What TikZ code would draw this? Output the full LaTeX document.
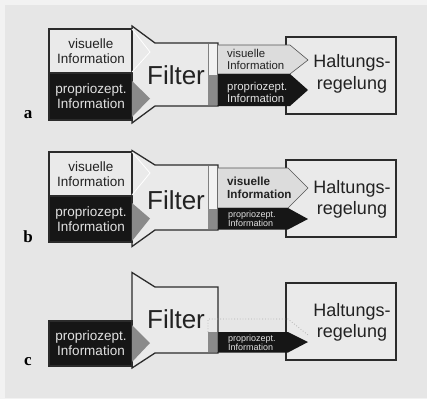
\documentclass[tikz,border=0pt]{standalone}
\usepackage{fontspec}
\setmainfont{Liberation Sans}
\newfontfamily\labelfont{Liberation Serif}
\definecolor{outerbg}{HTML}{F2F2F2}
\definecolor{panelbg}{HTML}{E6E6E6}
\definecolor{lightfill}{HTML}{EAEAEA}
\definecolor{edgecol}{HTML}{2B2B2B}
\definecolor{darkfill}{HTML}{161616}
\definecolor{midgray}{HTML}{8A8A8A}
\definecolor{arrowlight}{HTML}{DCDCDC}
\definecolor{textdark}{HTML}{222222}
\definecolor{textlight}{HTML}{E2E2E2}
\tikzset{
  filterbox/.style={draw=edgecol, line width=1.3pt, fill=lightfill, line join=miter},
  visbox/.style={draw=edgecol, line width=1.1pt, fill=lightfill},
  propbox/.style={draw=edgecol, line width=1.1pt, fill=darkfill},
  graytip/.style={fill=midgray},
  whitetip/.style={draw=white, line width=0.8pt},
  targetbox/.style={draw=edgecol, line width=1.4pt, fill=lightfill},
  visout/.style={draw=edgecol!80, line width=0.6pt, fill=arrowlight},
  propout/.style={fill=darkfill},
  ghost/.style={draw=gray!60, line width=0.8pt, dotted},
  intext/.style={inner sep=0pt, align=center, font=\fontsize{13.5}{15}\selectfont},
  outtext/.style={inner sep=0pt, align=left, anchor=west, font=\fontsize{11.4}{12}\selectfont},
  outbold/.style={inner sep=0pt, align=left, anchor=west, font=\fontsize{11.7}{13}\selectfont\bfseries},
  outsmall/.style={inner sep=0pt, align=left, anchor=west, font=\fontsize{9}{9}\selectfont},
  filtertext/.style={inner sep=0pt, font=\fontsize{26}{26}\selectfont, text=textdark},
  targettext/.style={inner sep=0pt, align=center, font=\fontsize{18}{21.5}\selectfont, text=textdark},
  panellabel/.style={inner sep=0pt, font=\labelfont\fontsize{17}{17}\selectfont\bfseries}
}
\begin{document}
\begin{tikzpicture}[x=1pt, y=-1pt]
\useasboundingbox (0,0) rectangle (427,399);
\fill[outerbg] (0,0) rectangle (427,399);
\fill[panelbg] (5,5) rectangle (426.5,398);

% ---------- panel a ----------
\draw[filterbox] (132,26) -- (155,43) -- (218,43) -- (218,106) -- (155,106) -- (132,123) -- cycle;
\draw[visbox] (49,29) rectangle (132,73);
\draw[propbox] (49,73) rectangle (132,120);
\fill[graytip] (132,81) -- (150,98.5) -- (132,117) -- cycle;
\draw[whitetip] (132,29) -- (150,52) -- (132,72);
\fill[white!95!black] (208,43.6) rectangle (217.4,75);
\draw[gray, line width=0.4pt] (208,43.6) -- (208,75);
\fill[midgray] (208,75) rectangle (217.4,105.4);
\draw[targetbox] (286,37) rectangle (396,114);
\draw[visout] (218,45) -- (290,45) -- (308,60) -- (290,74) -- (218,74);
\fill[propout] (218,74) -- (290,74) -- (308,90) -- (290,106) -- (218,106) -- cycle;
\node[intext, text=textdark] (a-vis) at (91,51) {visuelle\\Information};
\node[intext, text=textlight] (a-prop) at (91,96.5) {propriozept.\\Information};
\node[filtertext] (a-filter) at (176,75) {Filter};
\node[outtext, text=textdark] (a-visout) at (227,59) {visuelle\\Information};
\node[outtext, text=textlight] (a-propout) at (227,92.5) {propriozept.\\Information};
\node[targettext] (a-target) at (352,74) {Haltungs-\\regelung};
\node[panellabel] (a-label) at (28,115) {a};

% ---------- panel b ----------
\draw[filterbox] (132,150.5) -- (155,165) -- (218,165) -- (218,230) -- (155,230) -- (132,246.5) -- cycle;
\draw[visbox] (49,152) rectangle (132,196);
\draw[propbox] (49,196) rectangle (132,242);
\fill[graytip] (132,203) -- (150,218.5) -- (132,241) -- cycle;
\draw[whitetip] (132,152) -- (150,173) -- (132,195);
\fill[white!95!black] (208,165.6) rectangle (217.4,209);
\draw[gray, line width=0.4pt] (208,165.6) -- (208,209);
\fill[midgray] (208,209) rectangle (217.4,229.4);
\draw[targetbox] (286,160) rectangle (396,237);
\draw[visout] (218,168) -- (288,168) -- (308,188) -- (288,208) -- (218,208);
\fill[propout] (218,208) -- (288,208) -- (308,219) -- (288,229.5) -- (218,229.5) -- cycle;
\node[intext, text=textdark] (b-vis) at (91,174) {visuelle\\Information};
\node[intext, text=textlight] (b-prop) at (91,219.5) {propriozept.\\Information};
\node[filtertext] (b-filter) at (176,200) {Filter};
\node[outbold, text=textdark] (b-visout) at (227,187.5) {visuelle\\Information};
\node[outsmall, text=textlight] (b-propout) at (228,219) {propriozept.\\Information};
\node[targettext] (b-target) at (352,199.5) {Haltungs-\\regelung};
\node[panellabel] (b-label) at (28,237) {b};

% ---------- panel c ----------
\draw[filterbox] (132,272.5) -- (155,287) -- (218,287) -- (218,353) -- (155,353) -- (132,368) -- cycle;
\draw[propbox] (49,321) rectangle (132,366);
\fill[graytip] (132,325) -- (150,343) -- (132,362) -- cycle;
\fill[midgray] (208,332) rectangle (217.4,352.4);
\draw[targetbox] (286,283) rectangle (396,360);
\draw[ghost] (208,332) -- (208,319) -- (288,319) -- (308,335);
\fill[propout] (218,332) -- (288,332) -- (308,342) -- (288,352.5) -- (218,352.5) -- cycle;
\node[intext, text=textlight] (c-prop) at (91,343.5) {propriozept.\\Information};
\node[filtertext] (c-filter) at (176,319) {Filter};
\node[outsmall, text=textlight] (c-propout) at (228,342.5) {propriozept.\\Information};
\node[targettext] (c-target) at (352,322.5) {Haltungs-\\regelung};
\node[panellabel] (c-label) at (28,362) {c};
\end{tikzpicture}
\end{document}
